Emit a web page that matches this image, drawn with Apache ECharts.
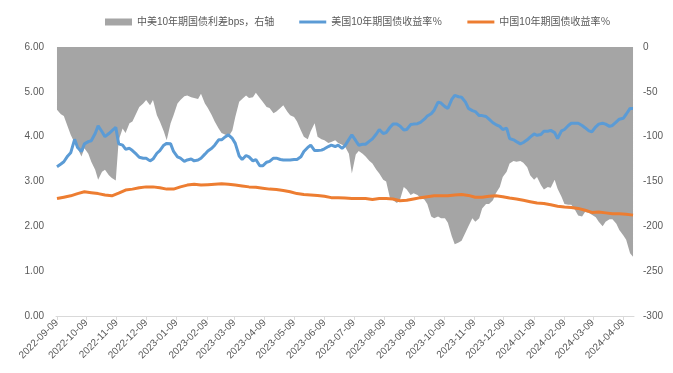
<!DOCTYPE html>
<html>
<head>
<meta charset="utf-8">
<script src="https://cdn.jsdelivr.net/npm/echarts@6/dist/echarts.min.js"></script>
<style>
html,body{margin:0;padding:0;background:#fff;}
#chart{width:673px;height:373px;}
</style>
</head>
<body>
<div id="chart"></div>
<script>
// twice-weekly observation dates (spread and US yield)
const dailyDates = [
'2022-09-09','2022-09-13','2022-09-16','2022-09-20','2022-09-23','2022-09-27','2022-09-30','2022-10-04','2022-10-07','2022-10-11',
'2022-10-14','2022-10-18','2022-10-21','2022-10-25','2022-10-28','2022-11-01','2022-11-04','2022-11-08','2022-11-11','2022-11-15',
'2022-11-18','2022-11-22','2022-11-25','2022-11-29','2022-12-02','2022-12-06','2022-12-09','2022-12-13','2022-12-16','2022-12-20',
'2022-12-23','2022-12-27','2022-12-30','2023-01-03','2023-01-06','2023-01-10','2023-01-13','2023-01-17','2023-01-20','2023-01-24',
'2023-01-27','2023-01-31','2023-02-03','2023-02-07','2023-02-10','2023-02-14','2023-02-17','2023-02-21','2023-02-24','2023-02-28',
'2023-03-03','2023-03-07','2023-03-10','2023-03-14','2023-03-17','2023-03-21','2023-03-24','2023-03-28','2023-03-31','2023-04-04',
'2023-04-07','2023-04-11','2023-04-14','2023-04-18','2023-04-21','2023-04-25','2023-04-28','2023-05-02','2023-05-05','2023-05-09',
'2023-05-12','2023-05-16','2023-05-19','2023-05-23','2023-05-26','2023-05-30','2023-06-02','2023-06-06','2023-06-09','2023-06-13',
'2023-06-16','2023-06-20','2023-06-23','2023-06-27','2023-06-30','2023-07-04','2023-07-07','2023-07-11','2023-07-14','2023-07-18',
'2023-07-21','2023-07-25','2023-07-28','2023-08-01','2023-08-04','2023-08-08','2023-08-11','2023-08-15','2023-08-18','2023-08-22',
'2023-08-25','2023-08-29','2023-09-01','2023-09-05','2023-09-08','2023-09-12','2023-09-15','2023-09-19','2023-09-22','2023-09-26',
'2023-09-29','2023-10-03','2023-10-06','2023-10-10','2023-10-13','2023-10-17','2023-10-20','2023-10-24','2023-10-27','2023-10-31',
'2023-11-03','2023-11-07','2023-11-10','2023-11-14','2023-11-17','2023-11-21','2023-11-24','2023-11-28','2023-12-01','2023-12-05',
'2023-12-08','2023-12-12','2023-12-15','2023-12-19','2023-12-22','2023-12-26','2023-12-29','2024-01-02','2024-01-05','2024-01-09',
'2024-01-12','2024-01-16','2024-01-19','2024-01-23','2024-01-26','2024-01-30','2024-02-02','2024-02-06','2024-02-09','2024-02-13',
'2024-02-16','2024-02-20','2024-02-23','2024-02-27','2024-03-01','2024-03-05','2024-03-08','2024-03-12','2024-03-15','2024-03-19',
'2024-03-22','2024-03-26','2024-03-29','2024-04-02','2024-04-05','2024-04-09','2024-04-12','2024-04-16','2024-04-19'
];
const spreadBps = [
-70,-75,-77,-89,-98,-107,-113,-122,-113,-119,
-128,-137,-148,-139,-137,-143,-146,-149,-104,-91,
-96,-85,-83,-74,-67,-63,-59,-65,-59,-76,
-83,-94,-104,-85,-76,-63,-59,-55,-54,-56,
-57,-58,-52,-63,-68,-76,-83,-91,-96,-98,
-100,-93,-78,-61,-58,-54,-57,-56,-51,-57,
-61,-67,-68,-74,-72,-68,-65,-72,-76,-78,
-83,-93,-100,-103,-94,-85,-100,-103,-104,-107,
-106,-104,-107,-109,-111,-119,-141,-120,-116,-119,
-122,-127,-130,-137,-141,-148,-150,-169,-171,-174,
-171,-156,-159,-165,-163,-165,-168,-170,-175,-189,
-191,-189,-191,-191,-196,-211,-220,-218,-216,-207,
-200,-191,-195,-191,-180,-175,-175,-171,-163,-156,
-145,-139,-130,-127,-128,-127,-129,-134,-143,-148,
-145,-154,-159,-156,-157,-148,-158,-167,-175,-176,
-176,-182,-188,-189,-184,-185,-187,-190,-195,-200,
-195,-192,-192,-197,-204,-210,-215,-230,-234
];
const usYield = [
3.33,3.39,3.44,3.57,3.64,3.94,3.76,3.67,3.84,3.89,
3.91,4.07,4.24,4.11,4.00,4.07,4.13,4.21,3.84,3.81,
3.72,3.74,3.69,3.61,3.54,3.52,3.52,3.46,3.50,3.63,
3.69,3.81,3.85,3.84,3.67,3.55,3.52,3.45,3.48,3.50,
3.46,3.48,3.52,3.61,3.68,3.74,3.81,3.93,3.93,4.00,
4.04,3.96,3.85,3.57,3.49,3.58,3.55,3.46,3.49,3.35,
3.35,3.43,3.45,3.52,3.52,3.49,3.48,3.48,3.48,3.49,
3.49,3.55,3.67,3.76,3.81,3.69,3.69,3.70,3.73,3.78,
3.81,3.78,3.81,3.74,3.80,3.94,4.04,3.91,3.81,3.83,
3.83,3.90,3.95,4.06,4.16,4.07,4.09,4.21,4.28,4.28,
4.24,4.15,4.16,4.27,4.28,4.29,4.32,4.39,4.46,4.51,
4.59,4.77,4.75,4.67,4.63,4.83,4.92,4.89,4.88,4.77,
4.63,4.58,4.56,4.47,4.47,4.45,4.39,4.31,4.27,4.23,
4.16,4.19,3.96,3.93,3.89,3.84,3.87,3.93,3.99,4.06,
4.03,4.05,4.12,4.12,4.14,4.09,3.96,4.13,4.16,4.25,
4.30,4.30,4.30,4.25,4.20,4.13,4.11,4.22,4.28,4.30,
4.28,4.23,4.25,4.33,4.39,4.41,4.50,4.63,4.63
];
// weekly observation dates (China yield)
const weeklyDates = [
'2022-09-09','2022-09-16','2022-09-23','2022-09-30','2022-10-07','2022-10-14','2022-10-21','2022-10-28','2022-11-04','2022-11-11',
'2022-11-18','2022-11-25','2022-12-02','2022-12-09','2022-12-16','2022-12-23','2022-12-30','2023-01-06','2023-01-13','2023-01-20',
'2023-01-27','2023-02-03','2023-02-10','2023-02-17','2023-02-24','2023-03-03','2023-03-10','2023-03-17','2023-03-24','2023-03-31',
'2023-04-07','2023-04-14','2023-04-21','2023-04-28','2023-05-05','2023-05-12','2023-05-19','2023-05-26','2023-06-02','2023-06-09',
'2023-06-16','2023-06-23','2023-06-30','2023-07-07','2023-07-14','2023-07-21','2023-07-28','2023-08-04','2023-08-11','2023-08-18',
'2023-08-25','2023-09-01','2023-09-08','2023-09-15','2023-09-22','2023-09-29','2023-10-06','2023-10-13','2023-10-20','2023-10-27',
'2023-11-03','2023-11-10','2023-11-17','2023-11-24','2023-12-01','2023-12-08','2023-12-15','2023-12-22','2023-12-29','2024-01-05',
'2024-01-12','2024-01-19','2024-01-26','2024-02-02','2024-02-09','2024-02-16','2024-02-23','2024-03-01','2024-03-08','2024-03-15',
'2024-03-22','2024-03-29','2024-04-05','2024-04-12','2024-04-19'
];
const cnYield = [
2.62,2.65,2.68,2.73,2.77,2.75,2.73,2.70,2.68,2.74,
2.81,2.83,2.86,2.88,2.88,2.86,2.83,2.83,2.88,2.92,
2.94,2.92,2.93,2.94,2.95,2.94,2.92,2.90,2.88,2.87,
2.85,2.83,2.82,2.80,2.77,2.73,2.71,2.70,2.69,2.67,
2.64,2.64,2.63,2.62,2.62,2.62,2.60,2.62,2.62,2.61,
2.57,2.58,2.61,2.64,2.66,2.68,2.68,2.68,2.70,2.71,
2.69,2.65,2.65,2.67,2.68,2.66,2.63,2.61,2.58,2.55,
2.52,2.51,2.48,2.45,2.43,2.42,2.40,2.36,2.31,2.32,
2.30,2.28,2.28,2.27,2.25
];
const xTickLabels = [
'2022-09-09','2022-10-09','2022-11-09','2022-12-09','2023-01-09','2023-02-09','2023-03-09',
'2023-04-09','2023-05-09','2023-06-09','2023-07-09','2023-08-09','2023-09-09','2023-10-09',
'2023-11-09','2023-12-09','2024-01-09','2024-02-09','2024-03-09','2024-04-09'
];
const seriesNames = ['中美10年期国债利差bps，右轴','美国10年期国债收益率％','中国10年期国债收益率％'];

function toTs(s){ const p = s.split('-').map(Number); return Date.UTC(p[0], p[1]-1, p[2]); }
function fmt(v){ const d = new Date(v); const m = d.getUTCMonth()+1, dd = d.getUTCDate();
  return d.getUTCFullYear() + '-' + (m<10?'0':'') + m + '-' + (dd<10?'0':'') + dd; }

const FONT = "'Liberation Sans','Noto Sans CJK SC',sans-serif";
const LINE_ICON = 'path://M0,0L100,0L100,11L0,11Z';
const tickTs = xTickLabels.map(toTs);
const chart = echarts.init(document.getElementById('chart'));
chart.setOption({
  animation: false,
  backgroundColor: '#fff',
  textStyle: { fontFamily: FONT },
  legend: {
    top: 12, left: 100, itemGap: 25, itemWidth: 27, itemHeight: 7,
    textStyle: { fontSize: 10, color: '#595959', fontFamily: FONT },
    data: [
      { name: seriesNames[0], icon: 'rect' },
      { name: seriesNames[1], icon: LINE_ICON },
      { name: seriesNames[2], icon: LINE_ICON }
    ]
  },
  grid: { left: 56, right: 39, top: 47, bottom: 57 },
  xAxis: {
    type: 'value',
    min: toTs('2022-09-08'), max: toTs('2024-04-20'),
    axisLine: { show: true, lineStyle: { color: '#d9d9d9', width: 1 } },
    axisTick: { show: true, length: 4, lineStyle: { color: '#d9d9d9' }, customValues: tickTs },
    axisLabel: { customValues: tickTs, rotate: 45, margin: 5, fontSize: 10, color: '#595959',
      fontFamily: FONT, formatter: function(v){ return fmt(v); } },
    splitLine: { show: false }
  },
  yAxis: [
    { type: 'value', min: 0, max: 6, interval: 1,
      axisLine: { show: false }, axisTick: { show: false }, splitLine: { show: false },
      axisLabel: { margin: 12, fontSize: 10, color: '#595959', fontFamily: FONT,
        formatter: function(v){ return v.toFixed(2); } } },
    { type: 'value', min: -300, max: 0, interval: 50,
      axisLine: { show: false }, axisTick: { show: false }, splitLine: { show: false },
      axisLabel: { margin: 9, fontSize: 10, color: '#595959', fontFamily: FONT } }
  ],
  series: [
    { name: seriesNames[0], type: 'line', yAxisIndex: 1, symbol: 'none',
      data: dailyDates.map((d,i)=>[toTs(d), spreadBps[i]]),
      lineStyle: { width: 0, color: '#a5a5a5' }, itemStyle: { color: '#a5a5a5' },
      areaStyle: { color: '#a5a5a5', opacity: 1, origin: 'end' }, z: 1 },
    { name: seriesNames[1], type: 'line', yAxisIndex: 0, symbol: 'none',
      data: dailyDates.map((d,i)=>[toTs(d), usYield[i]]),
      lineStyle: { width: 3, color: '#5b9bd5' }, itemStyle: { color: '#5b9bd5' }, z: 3 },
    { name: seriesNames[2], type: 'line', yAxisIndex: 0, symbol: 'none',
      data: weeklyDates.map((d,i)=>[toTs(d), cnYield[i]]),
      lineStyle: { width: 3, color: '#ed7d31' }, itemStyle: { color: '#ed7d31' }, z: 3 }
  ]
});
</script>
</body>
</html>
